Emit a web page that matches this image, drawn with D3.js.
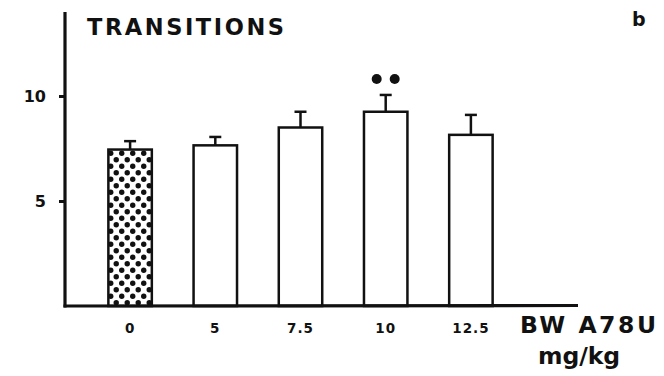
<!DOCTYPE html>
<html>
<head>
<meta charset="utf-8">
<script src="https://cdn.jsdelivr.net/npm/d3@7"></script>
<style>
  html, body { margin: 0; padding: 0; background: #fff; }
  svg { display: block; }
  text { font-family: "DejaVu Sans", sans-serif; font-weight: bold; fill: #111; }
</style>
</head>
<body>
<svg id="chart" width="664" height="376"></svg>
<script>
// Doses of BW A78U (mg/kg) and the mean number of transitions with SEM
const doses = ["0", "5", "7.5", "10", "12.5"];
const means = [7.45, 7.65, 8.5, 9.25, 8.15];
const sems  = [0.4, 0.4, 0.75, 0.8, 0.95];
const yTicks = [5, 10];
const significant = ["10"];   // marked with ●●

const svg = d3.select("#chart");
const ink = "#111";

const x = d3.scaleBand()
  .domain(doses)
  .range([87.5, 513.5])
  .paddingInner(0.49)
  .paddingOuter(0.245);

const y = d3.scaleLinear().domain([0, 14]).range([306, 12]);

// Dotted fill for the control (vehicle) bar
const defs = svg.append("defs");
const pat = defs.append("pattern")
  .attr("id", "dots")
  .attr("patternUnits", "userSpaceOnUse")
  .attr("width", 11).attr("height", 13)
  .attr("x", 108).attr("y", 150);
pat.append("rect").attr("width", 11).attr("height", 13).attr("fill", "#fff");
pat.append("circle").attr("cx", 2.75).attr("cy", 3.25).attr("r", 2.7).attr("fill", ink);
pat.append("circle").attr("cx", 8.25).attr("cy", 9.75).attr("r", 2.7).attr("fill", ink);

// Bars
svg.append("g").selectAll("rect")
  .data(doses)
  .join("rect")
  .attr("x", d => x(d))
  .attr("y", (d, i) => y(means[i]))
  .attr("width", x.bandwidth())
  .attr("height", (d, i) => y(0) - y(means[i]))
  .attr("fill", (d, i) => i === 0 ? "url(#dots)" : "#fff")
  .attr("stroke", ink)
  .attr("stroke-width", 2.5);

// Error bars (upper half only)
const err = svg.append("g").attr("stroke", ink).attr("stroke-width", 2.5);
doses.forEach((d, i) => {
  const cx = x(d) + x.bandwidth() / 2;
  err.append("line")
    .attr("x1", cx).attr("x2", cx)
    .attr("y1", y(means[i])).attr("y2", y(means[i] + sems[i]));
  err.append("line")
    .attr("x1", cx - 6).attr("x2", cx + 6)
    .attr("y1", y(means[i] + sems[i])).attr("y2", y(means[i] + sems[i]));
});

// Significance marks
significant.forEach(d => {
  const i = doses.indexOf(d);
  const cx = x(d) + x.bandwidth() / 2;
  const cy = y(means[i] + sems[i]) - 16;
  [-9, 9].forEach(dx => {
    svg.append("circle").attr("cx", cx + dx).attr("cy", cy).attr("r", 5).attr("fill", ink);
  });
});

// Y axis
const yAxis = svg.append("g").attr("transform", "translate(65,0)")
  .call(d3.axisLeft(y).tickValues(yTicks).tickSize(6).tickPadding(13).tickFormat(d3.format("d")));
yAxis.select(".domain").remove();
yAxis.selectAll(".tick line").attr("stroke", ink).attr("stroke-width", 3);
yAxis.selectAll(".tick text")
  .style("font-size", "16px").style("font-family", "DejaVu Sans").style("font-weight", "bold")
  .attr("fill", ink);
svg.append("line")
  .attr("x1", 65).attr("x2", 65)
  .attr("y1", y(14)).attr("y2", y(0) + 1.5)
  .attr("stroke", ink).attr("stroke-width", 3.2);

// X axis
svg.append("line")
  .attr("x1", 63.5).attr("x2", 578)
  .attr("y1", y(0)).attr("y2", y(0) - 0.5)
  .attr("stroke", ink).attr("stroke-width", 3.2);

const xAxis = svg.append("g").attr("transform", `translate(0,${y(0)})`)
  .call(d3.axisBottom(x).tickSize(0).tickPadding(17));
xAxis.select(".domain").remove();
xAxis.selectAll(".tick text")
  .style("font-size", "13.5px").style("font-family", "DejaVu Sans").style("font-weight", "bold")
  .style("letter-spacing", "1px")
  .attr("fill", ink);

// Titles and labels
svg.append("text").attr("x", 87).attr("y", 34.5)
  .attr("textLength", 197).attr("lengthAdjust", "spacing")
  .style("font-size", "22.5px").text("TRANSITIONS");

svg.append("text").attr("x", 632).attr("y", 26)
  .style("font-size", "19px").text("b");

svg.append("text").attr("x", 520).attr("y", 333)
  .attr("textLength", 136).attr("lengthAdjust", "spacing")
  .style("font-size", "23.5px").text("BW A78U");

svg.append("text").attr("x", 538).attr("y", 364)
  .attr("textLength", 82).attr("lengthAdjust", "spacing")
  .style("font-size", "23.5px").text("mg/kg");
</script>
</body>
</html>
